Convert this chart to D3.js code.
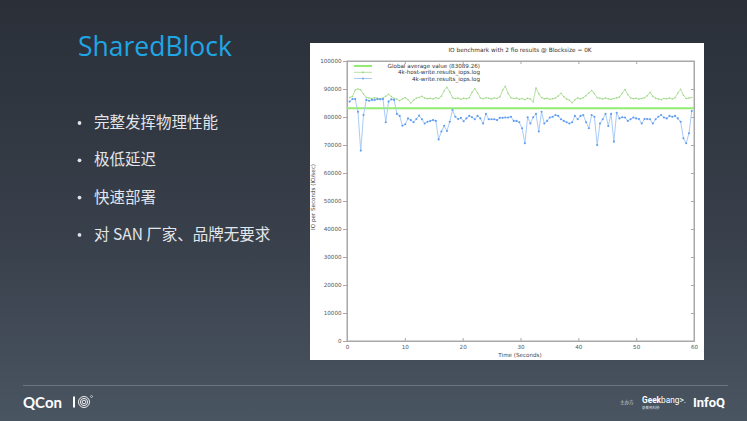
<!DOCTYPE html>
<html><head><meta charset="utf-8">
<script src="https://cdn.jsdelivr.net/npm/d3@7"></script>
<style>
html,body{margin:0;padding:0;background:#2b313a;}
svg{display:block;}
</style></head>
<body>
<script>
// ---------- data ----------
const slideTitle = "SharedBlock";
const bullets = ["完整发挥物理性能", "极低延迟", "快速部署", "对 SAN 厂家、品牌无要求"];
const chartTitle = "IO benchmark with 2 fio results @ Blocksize = 0K";
const seriesNames = ["Global average value (83089.26)", "4k-host-write.results_iops.log", "4k-write.results_iops.log"];
const globalAverage = 83089.26;
const yTicks = [0,10000,20000,30000,40000,50000,60000,70000,80000,90000,100000];
const xTicks = [0,10,20,30,40,50,60];
const firstSample = 0.45, sampleStep = 0.481; // seconds
// values in thousands of IOPS
const hostWriteK = [87.0,87.3,89.6,90.0,89.7,88.2,87.0,86.8,86.6,86.9,86.7,86.5,86.8,87.4,88.1,87.3,86.6,86.4,85.8,86.5,
86.9,86.2,85.0,86.0,86.7,87.0,87.4,86.8,86.5,86.7,86.4,86.9,86.6,87.4,89.4,90.6,89.0,86.9,86.6,86.8,
86.3,86.7,86.5,86.9,88.8,90.1,88.6,86.8,86.5,86.9,86.7,86.4,86.8,86.6,87.2,89.6,91.0,88.4,86.9,86.6,
86.8,86.3,86.6,86.2,86.7,86.4,85.4,90.4,88.3,86.9,86.5,86.7,86.3,86.5,86.8,87.5,88.5,87.2,86.4,86.0,
85.1,86.2,86.8,86.5,86.9,87.6,88.6,89.5,88.4,86.9,86.7,86.4,86.8,86.5,86.3,86.6,86.8,87.1,88.5,89.8,
88.0,86.8,86.5,86.7,86.4,86.6,86.9,87.6,88.8,87.4,86.7,86.4,86.2,86.6,86.5,86.8,86.4,86.9,88.6,89.9,
87.8,86.6,86.8,87.0];
const writeK = [85.5,86.4,86.4,81.9,68.0,80.7,86.1,85.8,86.1,86.1,86.4,86.3,86.4,78.1,85.5,86.3,86.1,81.1,80.4,76.9,
77.4,79.5,78.9,78.1,79.3,80.5,79.2,77.7,78.3,78.6,78.9,78.6,72.0,74.8,76.9,75.0,78.3,82.5,80.1,79.3,
79.7,78.5,79.5,80.4,79.9,79.2,80.4,79.5,77.7,81.1,79.2,79.2,79.2,78.9,79.7,79.7,
79.8,79.8,80.1,78.6,78.6,78.1,76.0,70.6,79.9,77.7,79.9,81.1,74.8,81.9,77.7,78.6,79.8,80.1,80.7,80.4,
79.2,78.6,78.1,77.7,78.1,80.4,79.2,80.4,80.7,78.1,76.0,80.7,80.1,70.0,77.7,79.2,81.1,76.8,81.1,71.2,
81.5,79.5,79.9,79.8,78.6,79.2,79.8,79.5,79.3,77.7,79.3,79.3,79.2,77.7,79.2,80.1,80.7,79.8,79.5,80.4,
80.1,80.4,79.5,78.3,72.4,70.6,74.2,82.1];

const W = 747, H = 421;
const svg = d3.select("body").append("svg").attr("width", W).attr("height", H);
const defs = svg.append("defs");
const grad = defs.append("linearGradient").attr("id","bg").attr("x1",0).attr("y1",0).attr("x2",0).attr("y2",1);
grad.append("stop").attr("offset","0%").attr("stop-color","#2a2f38");
grad.append("stop").attr("offset","60%").attr("stop-color","#39414c");
grad.append("stop").attr("offset","100%").attr("stop-color","#4a5562");
svg.append("rect").attr("width",W).attr("height",H).attr("fill","url(#bg)");

// title
svg.append("text").attr("x",78).attr("y",56).text(slideTitle)
  .attr("font-family","'Open Sans', 'Noto Sans', sans-serif").attr("font-size",26.5)
  .attr("fill","#1fa6e4");

// bullets
const cjk = "'Noto Sans CJK SC', 'Noto Sans', sans-serif";
bullets.forEach((b,i)=>{
  const y = 128 + i*37.3;
  svg.append("circle").attr("cx",79.5).attr("cy",y-5).attr("r",1.9).attr("fill","#dfe3e8");
  svg.append("text").attr("x",94).attr("y",y).text(b)
    .attr("font-family",cjk).attr("font-size",15.5).attr("fill","#e2e6eb");
});

// chart panel
const panel = {x:310, y:43, w:394, h:317};
svg.append("rect").attr("x",panel.x).attr("y",panel.y).attr("width",panel.w).attr("height",panel.h).attr("fill","#ffffff");

const plot = {l:347, r:694, t:61, b:341};
const x = d3.scaleLinear().domain([0,60]).range([plot.l, plot.r]);
const y = d3.scaleLinear().domain([0,100000]).range([plot.b, plot.t]);
const g = svg.append("g");
const font = "'DejaVu Sans', sans-serif";
const axisCol = "#a8a8a8";

// frame
g.append("rect").attr("x",plot.l).attr("y",plot.t).attr("width",plot.r-plot.l).attr("height",plot.b-plot.t)
  .attr("fill","none").attr("stroke",axisCol).attr("stroke-width",1);

// y axis (outward ticks)
const yAxis = d3.axisLeft(y).tickValues(yTicks).tickFormat(d3.format("d")).tickSize(4).tickPadding(1.5);
const ya = g.append("g").attr("transform",`translate(${plot.l},0)`).call(yAxis);
// x axis bottom (inward ticks)
const xAxis = d3.axisBottom(x).tickValues(xTicks).tickFormat(d3.format("d")).tickSize(-3).tickPadding(4);
const xa = g.append("g").attr("transform",`translate(0,${plot.b})`).call(xAxis);
// x ticks on top (inward)
const xTop = d3.axisTop(x).tickValues(xTicks).tickFormat("").tickSize(-3);
const xt = g.append("g").attr("transform",`translate(0,${plot.t})`).call(xTop);
// y ticks on right (inward)
const yRight = d3.axisRight(y).tickValues(yTicks).tickFormat("").tickSize(-3);
const yr = g.append("g").attr("transform",`translate(${plot.r},0)`).call(yRight);
[ya,xa,xt,yr].forEach(a=>{
  a.select(".domain").attr("stroke",axisCol);
  a.selectAll(".tick line").attr("stroke",axisCol);
  a.selectAll("text").attr("font-family",font).attr("font-size",5.6).attr("fill","#555");
});

// chart title & axis labels
g.append("text").attr("x",520).attr("y",51.5).attr("text-anchor","middle").text(chartTitle)
  .attr("font-family",font).attr("font-size",5.8).attr("fill","#333");
g.append("text").attr("x",520).attr("y",357).attr("text-anchor","middle").text("Time (Seconds)")
  .attr("font-family",font).attr("font-size",5.6).attr("fill","#444");
g.append("text").attr("transform","translate(315,197) rotate(-90)").attr("text-anchor","middle")
  .text("IO per Seconds (IO/sec)").attr("font-family",font).attr("font-size",5.6).attr("fill","#444");

// series
const times = writeK.map((_,i)=> firstSample + i*sampleStep);
const hostData = hostWriteK.map((v,i)=>({t:times[i], v:v*1000}));
const writeData = writeK.map((v,i)=>({t:times[i], v:v*1000}));
const line = d3.line().x(d=>x(d.t)).y(d=>y(d.v));

const avgCol = "#92ec72", hostCol = "#addf96", hostMk = "#9ad681", wCol = "#a9cbf7", wMk = "#5e9cf2";

g.append("path").datum(hostData).attr("d",line).attr("fill","none").attr("stroke",hostCol).attr("stroke-width",0.9);
g.selectAll(".hm").data(hostData).enter().append("circle").attr("cx",d=>x(d.t)).attr("cy",d=>y(d.v))
  .attr("r",0.75).attr("fill",hostMk);

g.append("line").attr("x1",x(0)).attr("x2",x(60)).attr("y1",y(globalAverage)).attr("y2",y(globalAverage))
  .attr("stroke",avgCol).attr("stroke-width",2);

g.append("path").datum(writeData).attr("d",line).attr("fill","none").attr("stroke",wCol).attr("stroke-width",1);
g.selectAll(".wm").data(writeData).enter().append("circle").attr("cx",d=>x(d.t)).attr("cy",d=>y(d.v))
  .attr("r",1.05).attr("fill",wMk);

// legend
const legY = [66,72.3,78.5];
const legStyles = [{c:avgCol,w:2,mk:null},{c:hostCol,w:0.9,mk:hostMk},{c:wCol,w:1,mk:wMk}];
seriesNames.forEach((n,i)=>{
  const s = legStyles[i];
  g.append("line").attr("x1",354).attr("x2",372).attr("y1",legY[i]).attr("y2",legY[i]).attr("stroke",s.c).attr("stroke-width",s.w);
  if(s.mk) g.append("circle").attr("cx",363).attr("cy",legY[i]).attr("r",0.9).attr("fill",s.mk);
  g.append("text").attr("x",480).attr("y",legY[i]+2).attr("text-anchor","end").text(n)
    .attr("font-family",font).attr("font-size",5.6).attr("fill","#333");
});

// footer
svg.append("line").attr("x1",23).attr("x2",728).attr("y1",385.5).attr("y2",385.5).attr("stroke","#6c7682").attr("stroke-width",1);
svg.append("text").attr("x",23).attr("y",408).text("QCon")
  .attr("font-family","Lato, Roboto, sans-serif").attr("font-weight","bold").attr("font-size",15).attr("fill","#ffffff");
svg.append("rect").attr("x",73).attr("y",396.5).attr("width",2).attr("height",11).attr("fill","#fff");
[5.5,3.6,1.8].forEach(r=>svg.append("circle").attr("cx",84).attr("cy",402).attr("r",r).attr("fill","none").attr("stroke","#fff").attr("stroke-width",0.9));
svg.append("circle").attr("cx",91.5).attr("cy",396.5).attr("r",1).attr("fill","none").attr("stroke","#fff").attr("stroke-width",0.5);

svg.append("text").attr("x",620).attr("y",404).text("主办方")
  .attr("font-family",cjk).attr("font-size",4.5).attr("fill","#c9ced4");
const gb = svg.append("text").attr("x",642).attr("y",403)
  .attr("font-family","Roboto, sans-serif").attr("font-size",8.3).attr("fill","#fff");
gb.append("tspan").attr("font-weight","bold").text("Geek");
gb.append("tspan").text("bang>.");
svg.append("text").attr("x",642).attr("y",408.5).text("极客邦科技")
  .attr("font-family",cjk).attr("font-size",3.5).attr("fill","#dfe3e8");
svg.append("text").attr("x",693).attr("y",406.5).text("InfoQ")
  .attr("font-family","Roboto, sans-serif").attr("font-weight","bold").attr("font-size",13).attr("fill","#fff");
</script>
</body></html>
